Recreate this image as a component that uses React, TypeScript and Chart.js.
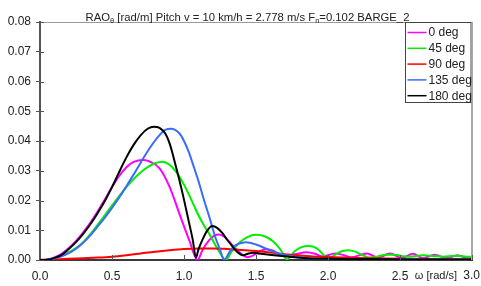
import React, { useEffect, useRef } from "react";
import { Chart, registerables } from "chart.js";

Chart.register(...registerables);

const FONT = '"Liberation Sans", Arial, Helvetica, sans-serif';

// ---- data (omega in rad/s, RAO in rad/m) ----
const seriesLabels = ["0 deg", "45 deg", "90 deg", "135 deg", "180 deg"];
const seriesColors = ["#ff00ff", "#00ee00", "#ff0000", "#3a6bff", "#000000"];

const omega0 = [0, 0.05, 0.1, 0.15, 0.2, 0.25, 0.3, 0.35, 0.4, 0.45, 0.5, 0.55, 0.6, 0.65, 0.72, 0.76, 0.83, 0.9, 0.967, 1.036, 1.094, 1.13, 1.175, 1.21, 1.244, 1.28, 1.313, 1.35, 1.382, 1.41, 1.44, 1.47, 1.52, 1.57, 1.62, 1.66, 1.7, 1.77, 1.85, 1.91, 1.96, 2.05, 2.11, 2.16, 2.27, 2.35, 2.43, 2.51, 2.59, 2.66, 2.74, 2.82, 2.9, 2.97, 3.0];
const rao0 = [0, 0.0002, 0.0009, 0.0021, 0.004, 0.0064, 0.0093, 0.0126, 0.0163, 0.0203, 0.0245, 0.0283, 0.0312, 0.033, 0.0336, 0.0331, 0.0308, 0.0246, 0.0157, 0.0067, 0.0, 0.0035, 0.0067, 0.0082, 0.0086, 0.0078, 0.0062, 0.0042, 0.0028, 0.0016, 0.0009, 0.0013, 0.0028, 0.0036, 0.0031, 0.0018, 0.0014, 0.0019, 0.0026, 0.0021, 0.0012, 0.0022, 0.0016, 0.0009, 0.0022, 0.0007, 0.0022, 0.0007, 0.0021, 0.0006, 0.0018, 0.0006, 0.0016, 0.0006, 0.0008];

const omega45 = [0, 0.05, 0.1, 0.15, 0.2, 0.25, 0.3, 0.35, 0.4, 0.45, 0.5, 0.55, 0.6, 0.65, 0.7, 0.75, 0.8, 0.85, 0.9, 0.944, 0.99, 1.036, 1.07, 1.105, 1.14, 1.175, 1.22, 1.255, 1.29, 1.33, 1.38, 1.44, 1.5, 1.56, 1.62, 1.67, 1.715, 1.77, 1.82, 1.866, 1.92, 1.96, 2.0, 2.05, 2.1, 2.14, 2.19, 2.24, 2.29, 2.34, 2.4, 2.47, 2.52, 2.58, 2.66, 2.74, 2.8, 2.88, 2.95, 3.0];
const rao45 = [0, 0.0001, 0.0006, 0.0014, 0.0026, 0.004, 0.006, 0.0087, 0.0118, 0.015, 0.0183, 0.0215, 0.0245, 0.0272, 0.0295, 0.0313, 0.0325, 0.033, 0.032, 0.0297, 0.0262, 0.0218, 0.0182, 0.0146, 0.0115, 0.0088, 0.0048, 0.002, 0.0, 0.0028, 0.0056, 0.0077, 0.0085, 0.008, 0.0062, 0.0035, 0.0002, 0.003, 0.0044, 0.0047, 0.004, 0.0022, 0.0002, 0.0018, 0.003, 0.0033, 0.0028, 0.0016, 0.0008, 0.0011, 0.0018, 0.0018, 0.0013, 0.0012, 0.0016, 0.0013, 0.0011, 0.0014, 0.0012, 0.001];

const omega90 = [0, 0.1, 0.2, 0.3, 0.4, 0.5, 0.6, 0.7, 0.8, 0.9, 1.0, 1.1, 1.2, 1.3, 1.4, 1.5, 1.6, 1.7, 1.8, 1.9, 2.0, 2.2, 2.4, 2.6, 2.8, 3.0];
const rao90 = [0, 0.0002, 0.0004, 0.0006, 0.0008, 0.0011, 0.0016, 0.0022, 0.0028, 0.0033, 0.0037, 0.0039, 0.0039, 0.0037, 0.0034, 0.003, 0.0025, 0.0019, 0.0015, 0.0012, 0.001, 0.0007, 0.0005, 0.0004, 0.0003, 0.0002];

const omega135 = [0, 0.05, 0.1, 0.15, 0.2, 0.25, 0.3, 0.35, 0.4, 0.45, 0.5, 0.55, 0.6, 0.65, 0.7, 0.76, 0.83, 0.87, 0.91, 0.967, 1.0, 1.036, 1.07, 1.105, 1.14, 1.175, 1.22, 1.25, 1.278, 1.32, 1.36, 1.43, 1.5, 1.58, 1.66, 1.73, 1.8, 1.9, 2.0, 2.1, 2.2, 2.3, 2.45, 2.55, 2.7, 2.8, 3.0];
const rao135 = [0, 0.0001, 0.0005, 0.0012, 0.0023, 0.0038, 0.0058, 0.0083, 0.0112, 0.0142, 0.0175, 0.021, 0.0248, 0.0287, 0.0328, 0.0375, 0.042, 0.0437, 0.0441, 0.0426, 0.04, 0.0359, 0.031, 0.0258, 0.02, 0.0146, 0.0073, 0.0035, 0.0, 0.003, 0.005, 0.006, 0.0052, 0.0036, 0.0022, 0.0014, 0.0009, 0.0004, 0.0002, 0.0003, 0.0001, 0.0003, 0.0001, 0.0003, 0.0001, 0.0002, 0.0001];

const omega180 = [0, 0.05, 0.1, 0.15, 0.2, 0.25, 0.3, 0.35, 0.4, 0.45, 0.5, 0.55, 0.6, 0.65, 0.7, 0.75, 0.79, 0.83, 0.87, 0.9, 0.944, 0.99, 1.036, 1.06, 1.083, 1.1, 1.13, 1.16, 1.198, 1.23, 1.267, 1.3, 1.336, 1.37, 1.41, 1.45, 1.48, 1.52, 1.61, 1.73, 1.85, 2.0, 2.3, 2.6, 3.0];
const rao180 = [0, 0.0001, 0.0007, 0.0017, 0.0037, 0.006, 0.0088, 0.012, 0.0157, 0.0198, 0.0245, 0.0296, 0.0345, 0.0387, 0.042, 0.0442, 0.0448, 0.0444, 0.0425, 0.0392, 0.0314, 0.0224, 0.0123, 0.007, 0.0008, 0.0035, 0.007, 0.0098, 0.0114, 0.0108, 0.009, 0.0068, 0.0046, 0.0027, 0.0016, 0.0022, 0.0024, 0.0022, 0.0017, 0.0011, 0.0006, 0.0004, 0.0003, 0.0002, 0.0002];

const seriesOmega = [omega0, omega45, omega90, omega135, omega180];
const seriesRao = [rao0, rao45, rao90, rao135, rao180];

const yMin = 0;
const yMax = 0.08;
const yStep = 0.01;
const xMin = 0;
const xMax = 3.0;
const xStep = 0.5;
const xAxisName = "ω [rad/s]";

const titleParts = [
  { t: "RAO", sub: false },
  { t: "θ", sub: true },
  { t: " [rad/m] Pitch v = 10 km/h = 2.778 m/s F", sub: false },
  { t: "n", sub: true },
  { t: "=0.102 BARGE_2", sub: false },
];

const decorPlugin = {
  id: "decor",
  afterDraw(chart: any) {
    const { ctx, chartArea: a, scales } = chart;
    const xs = scales.x;
    const ys = scales.y;
    ctx.save();
    // frame top / right
    ctx.strokeStyle = "#9a9a9a";
    ctx.lineWidth = 1;
    ctx.beginPath();
    ctx.moveTo(a.left, a.top + 0.5);
    ctx.lineTo(a.right, a.top + 0.5);
    ctx.stroke();
    ctx.strokeStyle = "#a8a8a8";
    ctx.lineWidth = 2;
    ctx.beginPath();
    ctx.moveTo(a.right, a.top);
    ctx.lineTo(a.right, a.bottom);
    ctx.stroke();
    // inner ticks
    ctx.strokeStyle = "#555";
    ctx.lineWidth = 1;
    ys.ticks.forEach((t: any) => {
      const y = Math.round(ys.getPixelForValue(t.value)) + 0.5;
      ctx.beginPath();
      ctx.moveTo(a.left, y);
      ctx.lineTo(a.left + 4, y);
      ctx.stroke();
    });
    xs.ticks.forEach((t: any) => {
      if (t.value === xMin) return;
      const x = Math.round(xs.getPixelForValue(t.value)) + 0.5;
      ctx.beginPath();
      ctx.moveTo(x, a.bottom);
      ctx.lineTo(x, a.bottom - 5);
      ctx.stroke();
    });
    // last x label + axis name
    ctx.fillStyle = "#222";
    ctx.font = `12px ${FONT}`;
    ctx.textBaseline = "middle";
    ctx.textAlign = "right";
    const ly = a.bottom + 15.5;
    ctx.fillText(xMax.toFixed(1), 480, ly);
    ctx.font = `11px ${FONT}`;
    ctx.fillText(xAxisName, 457, ly);
    // title
    const mainFont = `11.3px ${FONT}`;
    const subFont = `7.5px ${FONT}`;
    let total = 0;
    titleParts.forEach((p) => {
      ctx.font = p.sub ? subFont : mainFont;
      total += ctx.measureText(p.t).width;
    });
    let tx = 247.5 - total / 2;
    const tyBase = 20.5;
    ctx.textAlign = "left";
    ctx.textBaseline = "alphabetic";
    titleParts.forEach((p) => {
      ctx.font = p.sub ? subFont : mainFont;
      ctx.fillText(p.t, tx, p.sub ? tyBase + 2 : tyBase);
      tx += ctx.measureText(p.t).width;
    });
    // legend box
    const bx = 405.5;
    const by = a.top + 0.5;
    const bw = a.right - bx;
    const bh = 80;
    ctx.fillStyle = "#ffffff";
    ctx.fillRect(bx, by, bw, bh);
    ctx.strokeStyle = "#444";
    ctx.lineWidth = 1;
    ctx.strokeRect(bx, by, bw - 1, bh);
    ctx.font = `12px ${FONT}`;
    ctx.textBaseline = "middle";
    ctx.textAlign = "left";
    chart.data.datasets.forEach((ds: any, i: number) => {
      const ry = a.top + 10.5 + i * 15.8;
      ctx.strokeStyle = ds.borderColor;
      ctx.lineWidth = 1.5;
      ctx.beginPath();
      ctx.moveTo(bx + 2, ry);
      ctx.lineTo(bx + 21, ry);
      ctx.stroke();
      ctx.fillStyle = "#222";
      ctx.fillText(ds.label, bx + 23, ry + 0.5);
    });
    ctx.restore();
  },
};

export default function App() {
  const ref = useRef<HTMLCanvasElement | null>(null);
  useEffect(() => {
    if (!ref.current) return;
    const datasets = seriesLabels.map((label, i) => ({
      label,
      data: seriesOmega[i].map((x, j) => ({ x, y: seriesRao[i][j] })),
      borderColor: seriesColors[i],
      backgroundColor: seriesColors[i],
      borderWidth: 2,
      pointRadius: 0,
      fill: false,
      cubicInterpolationMode: "monotone" as const,
      order: seriesLabels.length - 1 - i,
    }));
    const chart = new Chart(ref.current, {
      type: "line",
      data: { datasets },
      options: {
        animation: false,
        responsive: false,
        devicePixelRatio: 1,
        layout: { padding: { top: 22, right: 7, left: 0, bottom: 0 } },
        plugins: { legend: { display: false }, tooltip: { enabled: false }, title: { display: false } },
        scales: {
          x: {
            type: "linear",
            min: xMin,
            max: xMax,
            ticks: {
              stepSize: xStep,
              color: "#222",
              font: { family: FONT, size: 12 },
              padding: 9,
              maxRotation: 0,
              callback: (v: any) => (Number(v) === xMax ? "" : Number(v).toFixed(1)),
            },
            grid: { drawOnChartArea: false, drawTicks: false },
            border: { display: true, color: "#3a3a3a", width: 2 },
            afterFit: (s: any) => {
              s.height = 26;
            },
          },
          y: {
            type: "linear",
            min: yMin,
            max: yMax,
            ticks: {
              stepSize: yStep,
              color: "#222",
              font: { family: FONT, size: 12 },
              padding: 5,
              callback: (v: any) => Number(v).toFixed(2),
            },
            grid: { drawOnChartArea: false, drawTicks: true, tickLength: 4, color: "#555" },
            border: { display: true, color: "#555", width: 2 },
            afterFit: (s: any) => {
              s.width = 40;
            },
          },
        },
      },
      plugins: [decorPlugin],
    });
    return () => chart.destroy();
  }, []);
  return (
    <div style={{ position: "fixed", left: 0, top: 0, width: 481, height: 286, background: "#fff" }}>
      <canvas ref={ref} width={481} height={286} style={{ display: "block" }} />
    </div>
  );
}
